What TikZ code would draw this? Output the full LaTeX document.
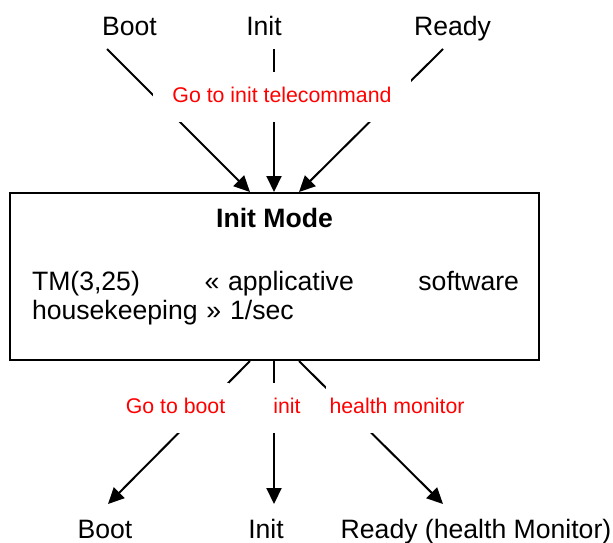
\documentclass[tikz,border=0pt]{standalone}
\usepackage{fontspec}
\setmainfont{Liberation Sans}
\usetikzlibrary{arrows.meta, positioning}

\begin{document}
\begin{tikzpicture}[x=0.5pt, y=-0.5pt, line width=1pt,
    >={Triangle[length=8pt, width=7.5pt]},
    modebox/.style={rectangle, draw, minimum width=264.5pt, minimum height=83.5pt,
                    inner sep=0pt},
    state/.style={font=\fontsize{13.3}{16}\selectfont, anchor=base, inner sep=0pt},
    cmd/.style={font=\fontsize{10.65}{12}\selectfont, text=red, fill=white,
                anchor=base, inner xsep=2pt, inner ysep=0pt,
                text height=15pt, text depth=10pt}]

    \useasboundingbox (0,0) rectangle (613,542);

    % mode box
    \node[modebox] (mode) at (274.5,276.5) {};
    \node[state, font=\fontsize{13.3}{16}\selectfont\bfseries] (modetitle) at (274.5,227) {Init Mode};
    \node[state, anchor=base west, text width=243.5pt, align=left,
          font=\fontsize{13.3}{14.3}\selectfont] (modetext) at (31,290.7)
        {TM(3,25)\hfill« applicative\hfill software\\housekeeping » 1/sec};

    % states before and after
    \node[state] (bootin) at (129.5,35) {Boot};
    \node[state] (initin) at (264,35) {Init};
    \node[state] (readyin) at (452.5,35) {Ready};
    \node[state] (bootout) at (105,538) {Boot};
    \node[state] (initout) at (266,538) {Init};
    \node[state] (readyout) at (476,538) {Ready (health Monitor)};

    \coordinate (bootsrc) at (107,49);
    \coordinate (initsrc) at (274,49);
    \coordinate (readysrc) at (443,49);
    \coordinate (bootdst) at (108,504);
    \coordinate (initdst) at (274,504);
    \coordinate (readydst) at (443,504);

    % transitions
    \draw[->] (bootsrc) -- ([xshift=-12.25pt]mode.north);
    \draw[->] (initsrc) -- ([xshift=-0.25pt]mode.north);
    \draw[->] (readysrc) -- ([xshift=12.25pt]mode.north);
    \draw[->] ([xshift=-12.25pt]mode.south) -- (bootdst);
    \draw[->] ([xshift=-0.25pt]mode.south) -- (initdst);
    \draw[->] ([xshift=12.25pt]mode.south) -- (readydst);

    % telecommand labels
    \node[cmd, minimum width=129pt] (gotoinit) at (282,102) {Go to init telecommand};
    \node[cmd] (gotoboot) at (175.5,413) {Go to boot};
    \node[cmd] (initcmd) at (287,413) {init};
    \node[cmd] (healthcmd) at (397,413) {health monitor};
\end{tikzpicture}
\end{document}
